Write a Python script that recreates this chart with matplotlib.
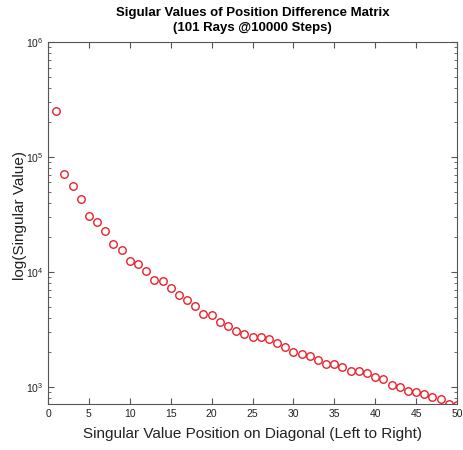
import numpy as np
import matplotlib
matplotlib.use('Agg')
import matplotlib.pyplot as plt
from matplotlib.ticker import LogLocator, NullFormatter

#----データ-------------------------------------------------------------
POS=list(range(1,51))
SV=[249000,71100,55600,43200,30900,27000,22700,17500,15400,12500,
    11700,10100,8470,8300,7210,6270,5670,5100,4340,4200,
    3700,3390,3070,2910,2720,2690,2630,2410,2230,2000,
    1950,1850,1710,1585,1575,1482,1386,1380,1323,1222,
    1174,1041,1006,929,899,864,824,787,711,701]
XTICKS=list(range(0,51,5))

#----描画---------------------------------------------------------------
plt.rcParams['font.family']=['Liberation Sans','DejaVu Sans']
GRAY='#555555'
fig=plt.figure(figsize=(4.63,4.5),dpi=100)
ax=fig.add_axes([48/463,46/450,409/463,362/450])
ax.semilogy(POS,SV,'o',mfc='none',mec='#e8202a',ms=5.4,mew=1.0,clip_on=True)
ax.set_xlim(0,50)
ax.set_ylim(710,1e6)
ax.set_xticks(XTICKS)
ax.yaxis.set_major_locator(LogLocator(base=10,numticks=10))
ax.yaxis.set_minor_locator(LogLocator(base=10,subs=np.arange(2,10),numticks=10))
ax.yaxis.set_minor_formatter(NullFormatter())
ax.tick_params(which='both',direction='in',top=True,right=True,colors=GRAY,
               labelcolor='#222222',labelsize=7.5)
ax.tick_params(which='major',length=4,width=0.8)
ax.tick_params(which='minor',length=2,width=0.6)
for s in ax.spines.values():
  s.set_color(GRAY)
  s.set_linewidth(0.8)
ax.set_title('Sigular Values of Position Difference Matrix\n(101 Rays @10000 Steps)',
             fontsize=9.5,fontweight='bold',pad=8,linespacing=1.3)
ax.set_xlabel('Singular Value Position on Diagonal (Left to Right)',fontsize=11,
              color='#222222',labelpad=6)
ax.set_ylabel('log(Singular Value)',fontsize=11,color='#222222')
ax.yaxis.set_label_coords(-0.052,0.52)
fig.savefig('out.png',dpi=100)
plt.close()
